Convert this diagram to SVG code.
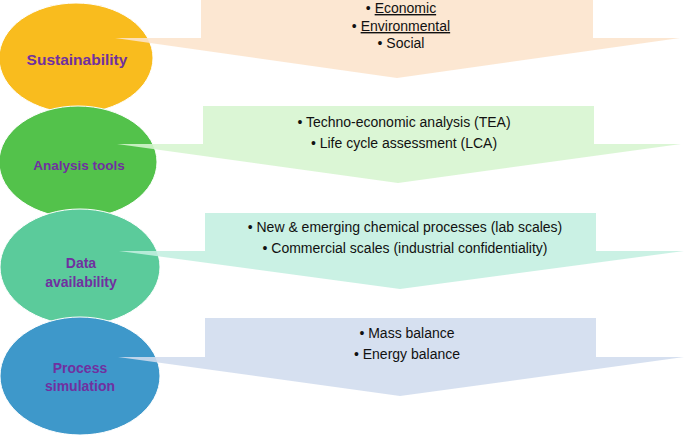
<svg xmlns="http://www.w3.org/2000/svg" width="685" height="437" viewBox="0 0 685 437">
<style>
.lbl{font-family:"Liberation Sans",Arial,sans-serif;font-weight:bold;fill:#7030A0;text-anchor:middle}
.txt{font-family:"Liberation Sans",Arial,sans-serif;fill:#111;text-anchor:middle;font-size:14px}
.circ{stroke:#ffffff;stroke-width:1}
.arr{opacity:0.88}
</style>
<rect width="685" height="437" fill="#ffffff"/>
<g id="sustainability">
<ellipse class="circ" cx="76" cy="58" rx="77" ry="55" fill="#F9BC1E"/>
<text class="lbl" x="77" y="65" font-size="15.5">Sustainability</text>
</g>
<g id="arrow-sustainability">
<polygon class="arr" points="201,-2 593,-2 593,38 680,38 397,78 115,38 201,38" fill="#FCE4CC"/>
<text class="txt" x="401" y="13" font-size="13"><tspan>• </tspan><tspan text-decoration="underline">Economic</tspan></text>
<text class="txt" x="401" y="31" font-size="13"><tspan>• </tspan><tspan text-decoration="underline">Environmental</tspan></text>
<text class="txt" x="401" y="48" font-size="13">• Social</text>
</g>
<g id="analysis-tools">
<ellipse class="circ" cx="78" cy="162" rx="79" ry="56" fill="#53C24B"/>
<text class="lbl" x="79" y="170" font-size="13.5">Analysis tools</text>
</g>
<g id="arrow-analysis">
<polygon class="arr" points="203,106 594,106 594,144 681,144 398,183 117,144 203,144" fill="#D6F5CF"/>
<text class="txt" x="404" y="127">• Techno-economic  analysis (TEA)</text>
<text class="txt" x="404" y="148">• Life cycle assessment  (LCA)</text>
</g>
<g id="data-availability">
<ellipse class="circ" cx="80" cy="267" rx="80" ry="58" fill="#5BCB9B"/>
<text class="lbl" x="81" y="268" font-size="14">Data</text>
<text class="lbl" x="81" y="287" font-size="14">availability</text>
</g>
<g id="arrow-data">
<polygon class="arr" points="205,213 596,213 596,251 684,251 400,289 119,251 205,251" fill="#C3EFE0"/>
<text class="txt" x="405" y="232">• New &amp; emerging chemical processes (lab scales)</text>
<text class="txt" x="405" y="253">• Commercial scales (industrial confidentiality)</text>
</g>
<g id="process-simulation">
<ellipse class="circ" cx="80" cy="376" rx="80" ry="59" fill="#3E98CA"/>
<text class="lbl" x="80" y="373" font-size="14">Process</text>
<text class="lbl" x="80" y="391" font-size="14">simulation</text>
</g>
<g id="arrow-process">
<polygon class="arr" points="205,318 596,318 596,357 684,357 400,396 118,357 205,357" fill="#D0DCEE"/>
<text class="txt" x="407" y="338">• Mass balance</text>
<text class="txt" x="407" y="359">• Energy balance</text>
</g>
<g id="connectors"></g>
</svg>
